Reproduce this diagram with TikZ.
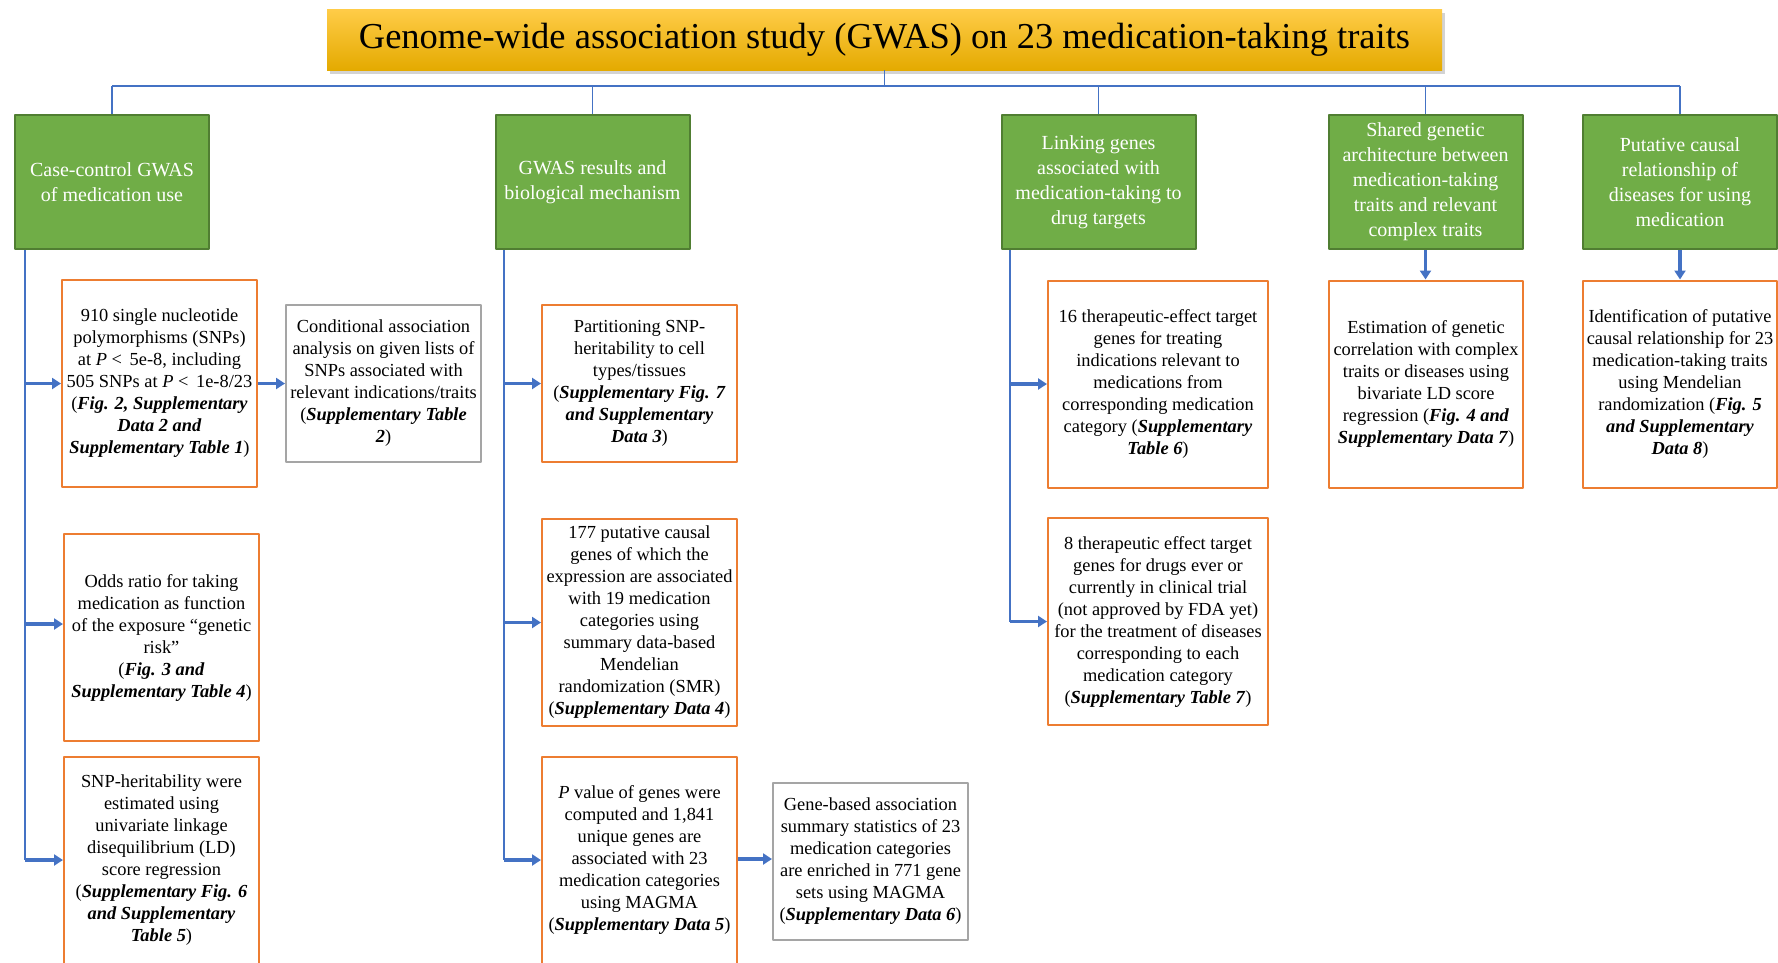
\documentclass[tikz,border=0pt]{standalone}
\usepackage{fontspec}
\setmainfont{Liberation Serif}
\usetikzlibrary{arrows.meta,shadows}

\definecolor{titletop}{RGB}{255,204,72}
\definecolor{titlebot}{RGB}{228,170,0}
\definecolor{grnfill}{RGB}{112,173,71}
\definecolor{grnedge}{RGB}{80,126,50}
\definecolor{orgedge}{RGB}{237,125,49}
\definecolor{grayedge}{RGB}{165,165,165}
\definecolor{linkblue}{RGB}{68,114,196}

\newcommand{\bi}[1]{\textbf{\textit{#1}}}

\tikzset{
  titlebox/.style={top color=titletop, bottom color=titlebot, draw=none, inner sep=0pt,
    minimum width=1115, minimum height=61,
    drop shadow={shadow xshift=3pt, shadow yshift=-4pt, opacity=0.35},
    font=\fontsize{36.5}{44}\selectfont},
  headbox/.style={fill=grnfill, draw=grnedge, line width=2pt, text=white, align=center,
    inner sep=0pt, minimum width=194, minimum height=134, font=\fontsize{20}{25}\selectfont},
  findbox/.style={fill=white, draw=orgedge, line width=2pt, align=center, inner sep=0pt,
    minimum width=195, minimum height=207, font=\fontsize{18.4}{22}\selectfont},
  sidebox/.style={findbox, draw=grayedge, minimum height=157},
  tree/.style={draw=linkblue, line width=1.5pt},
  trunk/.style={draw=linkblue, line width=2pt},
  branch/.style={draw=linkblue, line width=3.5pt, -{Triangle[length=9pt,width=11pt]}},
}

\begin{document}
\begin{tikzpicture}[x=1pt, y=-1pt, line join=round]

  %% ════ title and the five research themes ════
  \node[titlebox] (title) at (884.5,39.5) {Genome-wide association study (GWAS) on 23 medication-taking traits};

  \node[headbox] (g1) at (112,182)    {Case-control GWAS\\of medication use};
  \node[headbox] (g2) at (592.5,182)  {GWAS results and\\biological mechanism};
  \node[headbox] (g3) at (1098.5,182) {Linking genes\\associated with\\medication-taking to\\drug targets};
  \node[headbox] (g4) at (1425.5,182) {Shared genetic\\architecture between\\medication-taking\\traits and relevant\\complex traits};
  \node[headbox] (g5) at (1680,182)   {Putative causal\\relationship of\\diseases for using\\medication};

  \coordinate (bus) at (0,86);
  \draw[tree] (title.south) -- (title.south |- bus);
  \draw[tree] (g1.north |- bus) -- (g5.north |- bus);
  \foreach \g in {g1,g2,g3,g4,g5}
    \draw[tree] (\g.north |- bus) -- (\g.north);

  %% ════ column 1 ════
  \node[findbox] (a1) at (159.5,383.5) {910 single nucleotide\\polymorphisms (SNPs)\\at \textit{P} <\, 5e-8, including\\505 SNPs at \textit{P} <\, 1e-8/23\\(\bi{Fig. 2, Supplementary}\\\bi{Data 2 and}\\\bi{Supplementary Table 1})};
  \node[sidebox] (c1) at (383.5,383.5) {Conditional association\\analysis on given lists of\\SNPs associated with\\relevant indications/traits\\(\bi{Supplementary Table}\\\bi{2})};
  \node[findbox] (a2) at (161.5,637.5) {Odds ratio for taking\\medication as function\\of the exposure “genetic\\risk”\\(\bi{Fig. 3 and}\\\bi{Supplementary Table 4})};
  \node[findbox] (a3) at (161.5,860)   {SNP-heritability were\\estimated using\\univariate linkage\\disequilibrium (LD)\\score regression\\(\bi{Supplementary Fig. 6}\\\bi{and Supplementary}\\\bi{Table 5})};

  \coordinate (t1) at ([xshift=11pt]g1.south west);
  \draw[trunk] (t1) -- (t1 |- a3.west);
  \draw[branch] (t1 |- a1.west) -- (a1.west);
  \draw[branch] ([yshift=13.5pt]a2.west -| t1) -- ([yshift=13.5pt]a2.west);
  \draw[branch] (t1 |- a3.west) -- (a3.west);
  \draw[branch] (a1.east) -- (c1.west);

  %% ════ column 2 ════
  \node[findbox, minimum height=157] (b1) at (639.5,383.5) {Partitioning SNP-\\heritability to cell\\types/tissues\\(\bi{Supplementary Fig. 7}\\\bi{and Supplementary}\\\bi{Data 3})};
  \node[findbox] (b2) at (639.5,622.5) {177 putative causal\\genes of which the\\expression are associated\\with 19 medication\\categories using\\summary data-based\\Mendelian\\randomization (SMR)\\(\bi{Supplementary Data 4})};
  \node[findbox] (b3) at (639.5,860)   {\textit{P} value of genes were\\computed and 1,841\\unique genes are\\associated with 23\\medication categories\\using MAGMA\\(\bi{Supplementary Data 5})};
  \node[sidebox] (c2) at (870.5,861)   {Gene-based association\\summary statistics of 23\\medication categories\\are enriched in 771 gene\\sets using MAGMA\\(\bi{Supplementary Data 6})};

  \coordinate (t2) at ([xshift=9pt]g2.south west);
  \draw[trunk] (t2) -- (t2 |- b3.west);
  \foreach \b in {b1,b2,b3}
    \draw[branch] (t2 |- \b.west) -- (\b.west);
  \draw[branch] ([yshift=1pt]b3.east) -- ([yshift=1pt]b3.east -| c2.west);

  %% ════ column 3 ════
  \node[findbox, minimum width=220] (d1) at (1158,384)    {16 therapeutic-effect target\\genes for treating\\indications relevant to\\medications from\\corresponding medication\\category (\bi{Supplementary}\\\bi{Table 6})};
  \node[findbox, minimum width=220] (d2) at (1158,621.5)  {8 therapeutic effect target\\genes for drugs ever or\\currently in clinical trial\\(not approved by FDA yet)\\for the treatment of diseases\\corresponding to each\\medication category\\(\bi{Supplementary Table 7})};

  \coordinate (t3) at ([xshift=9pt]g3.south west);
  \draw[trunk] (t3) -- (t3 |- d2.west);
  \draw[branch] (t3 |- d1.west) -- (d1.west);
  \draw[branch] (t3 |- d2.west) -- (d2.west);

  %% ════ columns 4 and 5 ════
  \node[findbox, minimum width=194] (e1) at (1426,384) {Estimation of genetic\\correlation with complex\\traits or diseases using\\bivariate LD score\\regression (\bi{Fig. 4 and}\\\bi{Supplementary Data 7})};
  \node[findbox, minimum width=194] (f1) at (1680,384) {Identification of putative\\causal relationship for 23\\medication-taking traits\\using Mendelian\\randomization (\bi{Fig. 5}\\\bi{and Supplementary}\\\bi{Data 8})};

  \draw[branch] (g4.south) -- (g4.south |- e1.north);
  \draw[branch] (g5.south) -- (g5.south |- f1.north);

  % fix the canvas to the reference size
  \pgfresetboundingbox
  \path[use as bounding box] (0,0) rectangle (1778,962);
\end{tikzpicture}
\end{document}
